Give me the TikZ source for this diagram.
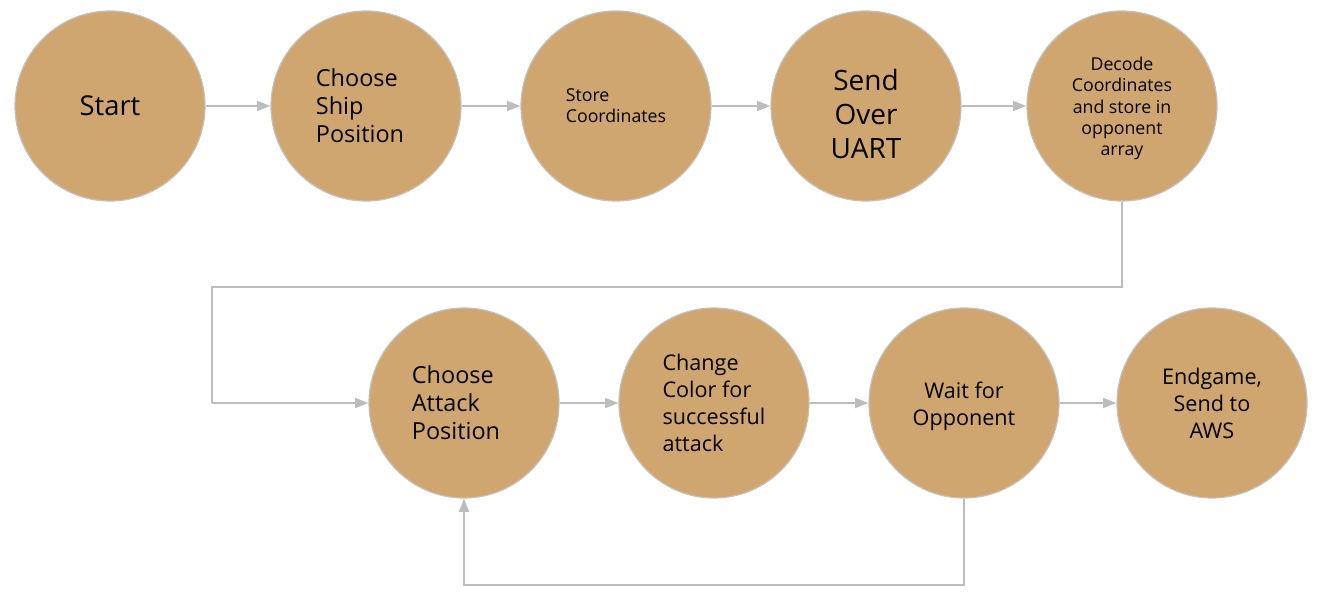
\documentclass[tikz,border=0pt]{standalone}
\usepackage{fontspec}
\setmainfont{Open Sans}
\usetikzlibrary{arrows.meta}
\definecolor{stagefill}{HTML}{D0A670}
\definecolor{stageedge}{HTML}{C4C0BA}
\definecolor{flowgray}{HTML}{BDBDBD}

\begin{document}
\begin{tikzpicture}[x=0.75pt, y=-0.75pt,
	stage/.style={circle, fill=stagefill, draw=stageedge, line width=0.9pt,
		minimum size=142.5pt, inner sep=0pt, text=black},
	big/.style={font=\fontsize{20.5}{25}\selectfont, align=center},
	mid/.style={font=\fontsize{17.6}{21}\selectfont, align=left},
	norm/.style={font=\fontsize{16.2}{20.25}\selectfont},
	small/.style={font=\fontsize{13.3}{15.6}\selectfont},
	flow/.style={draw=flowgray, line width=1.4pt, -{Triangle[length=10pt, width=7.5pt]}},
	wire/.style={draw=flowgray, line width=1.4pt}]
		%%%%% START %%%%%
		
		\useasboundingbox (0, 0) rectangle (1318, 602);
		
		% top row
		\node[stage, big] (start) at (110, 106) {Start};
		\node[stage, label={[mid, xshift=-4.5pt]center:{Choose\\Ship\\Position}}] (ship) at (366, 106) {};
		\node[stage, small, align=left] (store) at (616, 106) {Store\\Coordinates};
		\node[stage, label={[big, font=\fontsize{21}{25.2}\selectfont, yshift=-6pt]center:{Send\\Over\\UART}}] (uart) at (866, 106) {};
		\node[stage, label={[small, font=\fontsize{13.3}{16}\selectfont, align=center, yshift=-2pt]center:{Decode\\Coordinates\\and store in\\opponent\\array}}] (decode) at (1122, 106) {};
		
		% bottom row
		\node[stage, label={[mid, xshift=-6pt]center:{Choose\\Attack\\Position}}] (attack) at (464, 403) {};
		\node[stage, norm, align=left] (color) at (714, 403) {Change\\Color for\\successful\\attack};
		\node[stage, label={[norm, align=center, yshift=-2.2pt]center:{Wait for\\Opponent}}] (wait) at (964, 403) {};
		\node[stage, norm, align=center] (aws) at (1212, 403) {Endgame,\\Send to\\AWS};
		
		\coordinate (turnA) at (212, 287);
		\coordinate (turnB) at (212, 403);
		\coordinate (loop) at (964, 585);
		
		\draw[flow] (start) -- (ship);
		\draw[flow] (ship) -- (store);
		\draw[flow] (store) -- (uart);
		\draw[flow] (uart) -- (decode);
		
		\draw[wire] (decode.south) |- (turnA) -- (turnB);
		\draw[flow] (turnB) -- (attack.west);
		
		\draw[flow] (attack) -- (color);
		\draw[flow] (color) -- (wait);
		\draw[flow] (wait) -- (aws);
		
		\draw[flow] (wait.south) |- (loop) -| (attack.south);
		
		%%%%% END %%%%%
\end{tikzpicture}
\end{document}
